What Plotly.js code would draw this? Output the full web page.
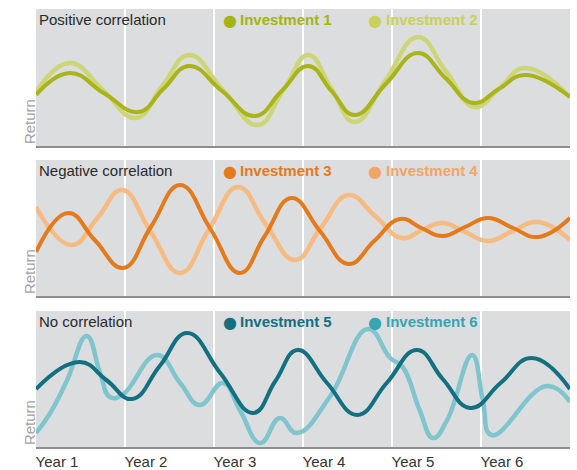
<!DOCTYPE html>
<html>
<head>
<meta charset="utf-8">
<script src="https://cdn.plot.ly/plotly-3.0.1.min.js"></script>
<style>html,body{margin:0;padding:0;background:#fff;}#chart{width:577px;height:470px;}</style>
</head>
<body>
<div id="chart"></div>
<script>
// ---- data (x in years, y in relative return units) ----
const yearTicks = [1, 2, 3, 4, 5, 6];
const yearLabels = ['Year 1', 'Year 2', 'Year 3', 'Year 4', 'Year 5', 'Year 6'];

const panelTitles = ['Positive correlation', 'Negative correlation', 'No correlation'];
const seriesNames = ['Investment 1', 'Investment 2', 'Investment 3', 'Investment 4', 'Investment 5', 'Investment 6'];

const inv1Years = [1.00, 1.38, 1.76, 2.15, 2.43, 2.72, 3.09, 3.46, 3.76, 4.06, 4.32, 4.58, 4.93, 5.29, 5.60, 5.91, 6.20, 6.49, 7.00];
const inv1Return = [51, 73, 53, 34, 57, 80, 55, 30, 55, 80, 55, 31, 62, 93, 68, 43, 57, 71, 49];

const inv2Years = [1.00, 1.38, 1.75, 2.12, 2.42, 2.72, 3.10, 3.49, 3.78, 4.06, 4.32, 4.58, 4.93, 5.29, 5.61, 5.93, 6.21, 6.49, 7.00];
const inv2Return = [54, 83, 56, 28, 60, 91, 56, 21, 56, 91, 57, 24, 66, 109, 74, 39, 58, 78, 49];

const inv3Years = [1.00, 1.36, 1.66, 1.98, 2.29, 2.62, 2.96, 3.29, 3.57, 3.87, 4.19, 4.51, 4.80, 5.09, 5.33, 5.57, 5.82, 6.08, 6.36, 6.64, 7.00];
const inv3Return = [44, 83, 56, 28, 69, 111, 67, 23, 60, 98, 65, 32, 55, 77, 68, 60, 69, 78, 68, 59, 78];

const inv4Years = [1.00, 1.40, 1.69, 1.97, 2.29, 2.62, 2.94, 3.27, 3.58, 3.91, 4.20, 4.51, 4.81, 5.11, 5.34, 5.57, 5.82, 6.08, 6.36, 6.64, 7.00];
const inv4Return = [89, 51, 78, 106, 64, 23, 66, 109, 72, 36, 68, 101, 80, 58, 66, 73, 64, 55, 65, 74, 56];

const inv5Years = [1.00, 1.49, 1.79, 2.08, 2.39, 2.70, 3.07, 3.44, 3.69, 3.94, 4.27, 4.61, 4.94, 5.28, 5.57, 5.88, 6.22, 6.57, 7.00];
const inv5Return = [58, 85, 67, 48, 81, 114, 74, 34, 66, 97, 64, 32, 64, 97, 68, 39, 64, 89, 58];

const inv6Years = [1.00, 1.16, 1.35, 1.57, 1.72, 1.83, 1.97, 2.36, 2.62, 2.84, 3.10, 3.29, 3.52, 3.74, 3.93, 4.30, 4.73, 4.98, 5.12, 5.31, 5.46, 5.62, 5.90, 6.02, 6.12, 6.74, 7.00];
const inv6Return = [14, 34, 67, 111, 74, 50, 52, 92, 64, 42, 64, 37, 4, 29, 14, 50, 118, 89, 80, 37, 9, 27, 92, 47, 12, 61, 45];

// ---- styling ----
const FONT = 'Liberation Sans, Arial, sans-serif';
const lineColors = ['#a9b41b', '#cdd677', '#e47a1c', '#f6bb83', '#137080', '#80c4ce'];
const lineWidths = [4, 4.5, 4, 4.5, 4, 4.5];
const legendColors = ['#a6b314', '#c8d158', '#e47a1c', '#f1a566', '#137080', '#36a4b1'];
const bg = '#dcdddf';

const panelRanges = [[0, 137], [0, 136], [0, 136]];
const domains = [[0.68721, 1], [0.34475, 0.65525], [0, 0.31050]];

const seriesX = [inv1Years, inv2Years, inv3Years, inv4Years, inv5Years, inv6Years];
const seriesY = [inv1Return, inv2Return, inv3Return, inv4Return, inv5Return, inv6Return];

const traces = [];
// draw lighter series first so darker one sits on top
const order = [1, 0, 3, 2, 5, 4];
order.forEach(function (i) {
  const p = Math.floor(i / 2);
  traces.push({
    x: seriesX[i], y: seriesY[i], name: seriesNames[i],
    type: 'scatter', mode: 'lines',
    line: {color: lineColors[i], width: lineWidths[i], shape: 'spline', smoothing: 1.3},
    xaxis: p === 0 ? 'x' : 'x' + (p + 1),
    yaxis: p === 0 ? 'y' : 'y' + (p + 1),
    showlegend: false, hoverinfo: 'skip'
  });
});

const layout = {
  width: 577, height: 470,
  margin: {l: 36, r: 7, t: 9, b: 23, pad: 0},
  paper_bgcolor: '#ffffff', plot_bgcolor: bg,
  showlegend: false,
  font: {family: FONT, size: 15, color: '#333333'},
  annotations: []
};

for (let p = 0; p < 3; p++) {
  const xa = p === 0 ? 'xaxis' : 'xaxis' + (p + 1);
  const ya = p === 0 ? 'yaxis' : 'yaxis' + (p + 1);
  layout[xa] = {
    domain: [0, 1], range: [1, 7], anchor: p === 0 ? 'y' : 'y' + (p + 1),
    tickvals: yearTicks, ticktext: yearLabels,
    showticklabels: p === 2, ticks: '', ticklabelshift: 21,
    tickfont: {family: FONT, size: 15, color: '#333333'},
    showgrid: true, gridcolor: '#ffffff', gridwidth: 1.5,
    zeroline: false, showline: true, linecolor: '#8e8e8e', linewidth: 2,
    fixedrange: true
  };
  layout[ya] = {
    domain: domains[p], range: panelRanges[p], anchor: p === 0 ? 'x' : 'x' + (p + 1),
    showgrid: false, zeroline: false, showline: false, showticklabels: false, ticks: '',
    fixedrange: true
  };
  // panel title
  layout.annotations.push({
    xref: 'paper', yref: 'paper', x: 0.002, y: domains[p][1], xanchor: 'left', yanchor: 'top',
    text: panelTitles[p], showarrow: false, font: {family: FONT, size: 15, color: '#2a2a2a'}
  });
  // "Return" axis label
  layout.annotations.push({
    xref: 'paper', yref: 'paper', x: -0.012, y: domains[p][0], xanchor: 'center', yanchor: 'bottom',
    text: 'Return', textangle: -90, showarrow: false, font: {family: FONT, size: 15, color: '#a3a3a3'}
  });
  // legend entries
  const legX = [[221, 238], [366, 384]];
  for (let k = 0; k < 2; k++) {
    const idx = p * 2 + k;
    layout.annotations.push({
      xref: 'paper', yref: 'paper', x: (legX[k][0] - 36) / 534, y: domains[p][1], xanchor: 'left', yanchor: 'top',
      text: '●', showarrow: false, font: {family: 'DejaVu Sans, sans-serif', size: 16, color: legendColors[idx]}
    });
    layout.annotations.push({
      xref: 'paper', yref: 'paper', x: (legX[k][1] - 36) / 534, y: domains[p][1], xanchor: 'left', yanchor: 'top',
      text: '<b>' + seriesNames[idx] + '</b>', showarrow: false,
      font: {family: FONT, size: 15, color: legendColors[idx]}
    });
  }
}

Plotly.newPlot('chart', traces, layout, {staticPlot: true, displayModeBar: false});
</script>
</body>
</html>
